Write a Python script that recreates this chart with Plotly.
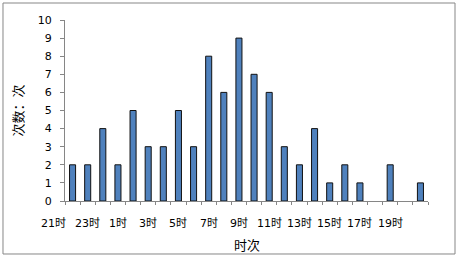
import plotly.graph_objects as go

categories = ['21时', '22时', '23时', '0时', '1时', '2时', '3时', '4时', '5时', '6时', '7时', '8时',
              '9时', '10时', '11时', '12时', '13时', '14时', '15时', '16时', '17时', '18时', '19时', '20时']
counts = [2, 2, 4, 2, 5, 3, 3, 5, 3, 8, 6, 9, 7, 6, 3, 2, 4, 1, 2, 1, 0, 2, 0, 1]
y_ticks = list(range(0, 11))
x_title = '时次'
y_title = '次数：次'

num_font = 'DejaVu Sans'
cjk_font = 'Noto Sans CJK SC'
n = len(categories)

fig = go.Figure()
fig.add_trace(go.Bar(
    x=categories, y=counts, width=0.4,
    marker=dict(color='#4F81BD',
                line=dict(color='#111111', width=[1 if v > 0 else 0 for v in counts])),
))

# category labels every other hour, drawn under the axis (slightly left of their bar, as in the source)
annotations = []
for i in range(0, n, 2):
    pos = (i - 1) if i > 0 else -1.25
    annotations.append(dict(
        x=(pos + 0.5) / n, y=-0.125, xref='paper', yref='paper',
        text=categories[i], showarrow=False, xanchor='center', yanchor='middle',
        font=dict(family=num_font + ', ' + cjk_font, size=11, color='#000000')))
annotations.append(dict(
    x=0.5, y=-0.243, xref='paper', yref='paper', text=x_title, showarrow=False,
    xanchor='center', yanchor='middle',
    font=dict(family=cjk_font, size=13, color='#000000')))
annotations.append(dict(
    x=-0.1295, y=0.5, xref='paper', yref='paper', text=y_title, showarrow=False,
    textangle=-90, xanchor='center', yanchor='middle',
    font=dict(family=cjk_font, size=13, color='#000000')))

fig.update_layout(
    width=458, height=257,
    margin=dict(l=65, r=30, t=20, b=56),
    paper_bgcolor='white', plot_bgcolor='white',
    showlegend=False,
    annotations=annotations,
    shapes=[dict(type='rect', xref='paper', yref='paper',
                 x0=-0.1708, x1=1.0744, y0=-0.2928, y1=1.0939,
                 line=dict(color='#878787', width=1), fillcolor='rgba(0,0,0,0)', layer='below')],
)
fig.update_xaxes(
    type='category', range=[-0.5, 23.5], showgrid=False,
    showline=True, linecolor='#868686', linewidth=1,
    ticks='outside', tickson='boundaries', ticklen=3, tickcolor='#868686',
    showticklabels=False,
)
fig.update_yaxes(
    range=[0, 10], tickvals=y_ticks, showgrid=False, zeroline=False,
    showline=True, linecolor='#868686', linewidth=1,
    ticks='outside', ticklen=4, tickcolor='#868686', ticklabelstandoff=6,
    tickfont=dict(family=num_font, size=11, color='#000000'),
)

fig.write_html('out.html', config={'displayModeBar': False},
               post_script="document.body.style.margin='0px';document.body.style.overflow='hidden';")
